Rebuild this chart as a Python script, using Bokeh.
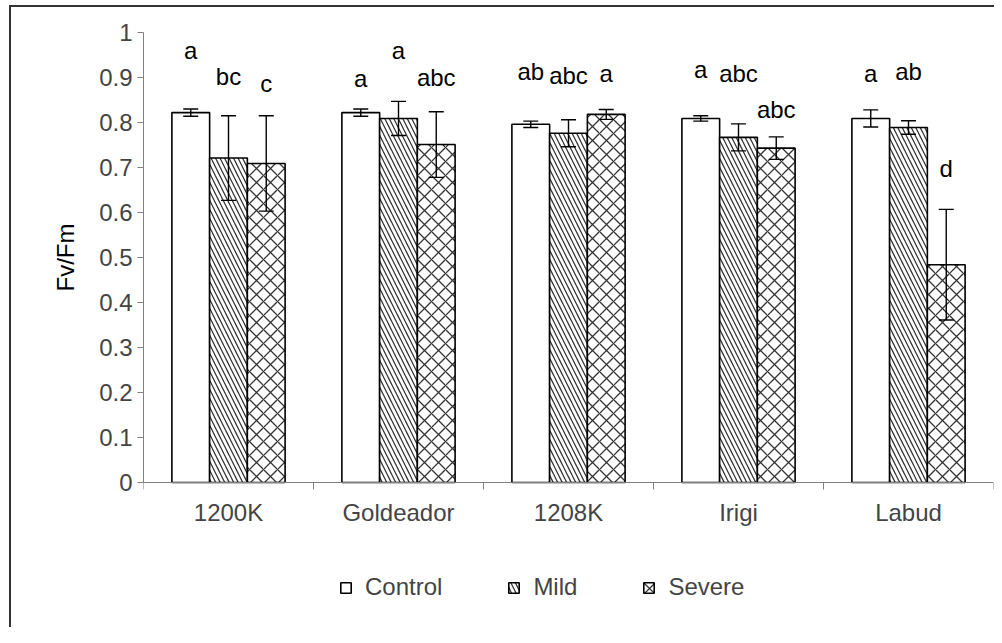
import numpy as np
from bokeh.plotting import figure
from bokeh.models import ColumnDataSource, Whisker, TeeHead, FixedTicker, Legend, LegendItem, Title
from bokeh.core.properties import value
from bokeh.embed import file_html
from bokeh.resources import INLINE

categories = ["1200K", "Goldeador", "1208K", "Irigi", "Labud"]
series = ["Control", "Mild", "Severe"]
control = [0.822, 0.822, 0.796, 0.809, 0.809]
control_err = [0.008, 0.008, 0.007, 0.006, 0.019]
mild = [0.721, 0.809, 0.776, 0.767, 0.789]
mild_err = [0.094, 0.038, 0.030, 0.030, 0.015]
severe = [0.709, 0.751, 0.818, 0.743, 0.484]
severe_err = [0.106, 0.073, 0.011, 0.025, 0.123]
letters_control = ["a", "a", "ab", "a", "a"]
letters_mild = ["bc", "a", "abc", "abc", "ab"]
letters_severe = ["c", "abc", "a", "abc", "d"]
letter_y_control = [0.96, 0.897, 0.914, 0.917, 0.908]
letter_y_mild = [0.902, 0.96, 0.904, 0.91, 0.914]
letter_y_severe = [0.886, 0.90, 0.908, 0.828, 0.697]
yticks = [0, 0.1, 0.2, 0.3, 0.4, 0.5, 0.6, 0.7, 0.8, 0.9, 1]
ytick_labels = ["0", "0.1", "0.2", "0.3", "0.4", "0.5", "0.6", "0.7", "0.8", "0.9", "1"]

FONT = "Liberation Sans"
FS = "24px"
BAR_W = 0.222
PX_PER_UNIT = 450          # vertical scale of the value axis
BELOW_ZERO_PX = 145        # room under the value 0 line for labels and legend

p = figure(frame_width=850, frame_height=PX_PER_UNIT + BELOW_ZERO_PX,
           x_range=(0, len(categories)), y_range=(-BELOW_ZERO_PX / PX_PER_UNIT, 1),
           output_backend="svg", toolbar_location=None,
           min_border_left=132, min_border_right=1, min_border_top=25, min_border_bottom=0)
p.styles = {"margin-left": "9px", "margin-top": "5px",
            "border-left": "2px solid #333333", "border-top": "2px solid #333333"}
p.outline_line_color = None
p.xgrid.visible = False
p.ygrid.visible = False
p.background_fill_color = "white"
p.border_fill_color = "white"

base = np.arange(len(categories)) + 0.5
specs = [
    (control, control_err, letters_control, letter_y_control, -BAR_W, None, 9),
    (mild, mild_err, letters_mild, letter_y_mild, 0.0, "left_diagonal_line", 9),
    (severe, severe_err, letters_severe, letter_y_severe, BAR_W, "diagonal_cross", 14),
]
items = []
for name, (vals, errs, lets, ly, off, hatch, hscale) in zip(series, specs):
    vals = np.array(vals)
    errs = np.array(errs)
    src = ColumnDataSource(dict(x=base + off, top=vals, upper=vals + errs, lower=vals - errs,
                                lab=lets, ly=ly))
    kw = {}
    if hatch:
        kw = dict(hatch_pattern=hatch, hatch_scale=hscale, hatch_color="#333333", hatch_weight=1.25)
    r = p.vbar(x="x", top="top", width=BAR_W, bottom=0, source=src, fill_color="white",
               line_color="black", line_width=1.6, **kw)
    items.append(LegendItem(label=name, renderers=[r]))
    w = Whisker(base="x", upper="upper", lower="lower", source=src, level="overlay",
                line_color="black", line_width=1.4,
                upper_head=TeeHead(size=15, line_color="black", line_width=1.4),
                lower_head=TeeHead(size=15, line_color="black", line_width=1.4))
    p.add_layout(w)
    p.text(x="x", y="ly", text="lab", source=src, text_align="center", text_baseline="middle",
           text_font=value(FONT), text_font_size=FS, text_color="black")

# y axis
ya = p.yaxis[0]
ya.ticker = FixedTicker(ticks=yticks)
ya.bounds = (0, 1)
ya.major_label_overrides = dict(zip(yticks, ytick_labels))
ya.major_label_text_font = FONT
ya.major_label_text_font_size = FS
ya.major_label_standoff = 5
ya.axis_line_color = "#808080"
ya.major_tick_line_color = "#808080"
ya.major_tick_out = 6
ya.major_tick_in = 0
ya.minor_tick_line_color = None

# y axis title, centred on the 0..1 part of the axis
ytitle = Title(text="Fv/Fm", align="left", offset=BELOW_ZERO_PX + PX_PER_UNIT / 2 - 34,
               text_font=FONT, text_font_size=FS, text_font_style="normal",
               text_color="black", standoff=35)
p.add_layout(ytitle, "left")

# x axis at value 0: labels at centers, ticks at category boundaries
xa = p.xaxis[0]
xa.fixed_location = 0
xa.ticker = FixedTicker(ticks=list(base), minor_ticks=list(range(len(categories) + 1)))
xa.major_label_overrides = dict(zip([float(b) for b in base], categories))
xa.major_label_text_font = FONT
xa.major_label_text_font_size = FS
xa.major_label_standoff = 9
xa.major_tick_out = 0
xa.major_tick_in = 0
xa.major_tick_line_color = None
xa.minor_tick_out = 7
xa.minor_tick_in = 0
xa.minor_tick_line_color = "#808080"
xa.axis_line_color = "#808080"

legend = Legend(items=items, orientation="horizontal", location=(196, 26),
                label_text_font=FONT, label_text_font_size=FS, glyph_width=13, glyph_height=13,
                spacing=65, label_standoff=13, padding=0, margin=0,
                border_line_color=None, background_fill_alpha=0)
p.add_layout(legend, "center")

open("out.html", "w").write(file_html(p, INLINE))
